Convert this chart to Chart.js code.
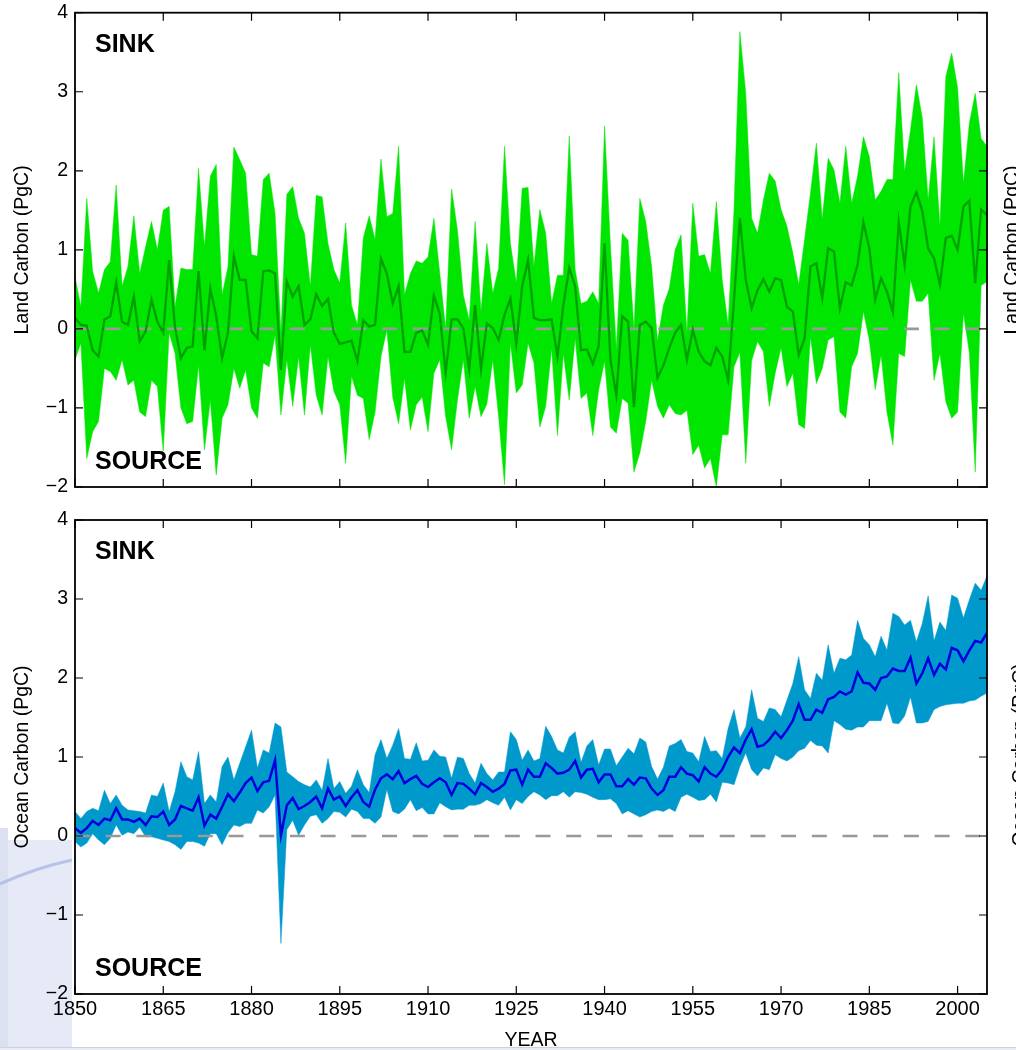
<!DOCTYPE html>
<html>
<head>
<meta charset="utf-8">
<script src="https://cdn.jsdelivr.net/npm/chart.js@4.4.1/dist/chart.umd.min.js"></script>
<style>
  body { margin: 0; background: #fff; width: 1016px; height: 1050px; overflow: hidden; position: relative; }
  canvas { position: absolute; left: 0; }
  #landChart { top: 0; }
  #oceanChart { top: 500px; }
</style>
</head>
<body>
<canvas id="landChart" width="1016" height="500"></canvas>
<canvas id="oceanChart" width="1016" height="550"></canvas>
<script>
// annual values, 1850-2005 (PgC)
const years = Array.from({ length: 156 }, (_, i) => 1850 + i);
const xTicks = [1850, 1865, 1880, 1895, 1910, 1925, 1940, 1955, 1970, 1985, 2000];
const yTicks = [-2, -1, 0, 1, 2, 3, 4];

const landUpper = [
  0.66, 0.28, 1.65, 0.73, 0.45, 0.75, 0.85, 1.82, 0.54, 0.79,
  1.43, 0.70, 1.04, 1.36, 1.00, 1.50, 1.55, 0.28, 0.77, 0.75,
  0.75, 2.03, 1.04, 1.93, 2.08, 0.43, 0.79, 2.30, 2.14, 1.97,
  0.94, 0.92, 1.89, 1.97, 1.46, -0.05, 1.70, 1.80, 1.40, 1.21,
  0.54, 1.69, 1.67, 1.08, 0.75, 0.58, 1.34, 0.30, 0.05, 1.15,
  1.43, 1.13, 2.15, 1.42, 1.46, 2.31, 0.43, 0.70, 0.86, 0.83,
  0.91, 1.40, 0.70, 0.00, 1.77, 1.25, 0.43, 0.11, 1.36, 0.22,
  1.08, 0.45, 0.77, 2.31, 1.08, 0.58, 1.78, 1.79, 0.79, 1.51,
  1.21, 0.32, 0.68, 0.68, 2.44, 0.75, 0.32, 0.35, 0.47, 0.32,
  2.57, 1.06, -0.25, 1.21, 1.12, 0.00, 1.65, 1.36, 0.79, -0.15,
  0.30, 0.51, 1.00, 1.19, -0.05, 1.59, 0.92, 0.94, 0.70, 1.61,
  0.62, 0.05, 1.50, 3.76, 2.98, 1.40, 1.21, 1.63, 1.97, 1.87,
  1.51, 1.30, 0.96, 0.56, 1.13, 1.72, 2.35, 1.38, 2.16, 2.01,
  1.59, 2.31, 1.59, 1.93, 2.43, 2.18, 1.63, 1.74, 1.89, 1.89,
  3.24, 1.99, 2.52, 3.09, 2.67, 1.63, 2.43, 1.30, 3.19, 3.49,
  3.05, 1.84, 2.60, 2.98, 2.41, 2.31
];
const landMean = [
  0.14, 0.05, 0.04, -0.27, -0.35, 0.12, 0.16, 0.59, 0.09, 0.05,
  0.41, -0.16, -0.03, 0.37, 0.09, -0.05, 0.87, 0.02, -0.37, -0.24,
  -0.22, 0.73, -0.27, 0.51, 0.16, -0.37, -0.05, 0.92, 0.62, 0.62,
  -0.03, -0.12, 0.73, 0.74, 0.70, -0.52, 0.60, 0.41, 0.54, 0.05,
  0.12, 0.44, 0.29, 0.38, -0.05, -0.19, -0.17, -0.15, -0.41, 0.11,
  0.03, 0.05, 0.89, 0.70, 0.32, 0.54, -0.29, -0.29, -0.05, -0.02,
  -0.20, 0.42, 0.19, -0.56, 0.12, 0.12, 0.01, -0.51, 0.30, -0.51,
  0.07, 0.01, -0.14, 0.18, 0.38, -0.19, 0.54, 0.87, 0.14, 0.11,
  0.11, 0.12, -0.35, 0.30, 0.77, 0.54, -0.27, -0.26, -0.44, -0.22,
  1.08, -0.39, -0.84, 0.16, 0.09, -0.99, 0.05, 0.09, 0.01, -0.62,
  -0.46, -0.24, -0.05, 0.05, -0.39, -0.01, -0.29, -0.41, -0.46, -0.24,
  -0.35, -0.65, 0.37, 1.40, 0.62, 0.26, 0.49, 0.63, 0.47, 0.64,
  0.62, 0.28, 0.22, -0.33, -0.12, 0.79, 0.83, 0.39, 1.02, 0.98,
  0.26, 0.59, 0.55, 0.81, 1.35, 1.02, 0.37, 0.64, 0.47, 0.21,
  1.35, 0.81, 1.55, 1.73, 1.49, 1.02, 0.89, 0.56, 1.15, 1.18,
  1.00, 1.55, 1.62, 0.58, 1.51, 1.44
];
const landLower = [
  -0.39, -0.18, -1.64, -1.30, -1.17, -0.50, -0.54, -0.65, -0.39, -0.71,
  -0.65, -1.05, -1.11, -0.65, -0.73, -1.55, -0.05, -0.31, -1.00, -1.20,
  -1.17, -0.46, -1.53, -0.90, -1.85, -1.13, -0.96, -0.50, -0.75, -0.52,
  -1.00, -1.13, -0.43, -0.48, -0.08, -1.09, -0.39, -0.98, -0.35, -1.09,
  -0.20, -0.84, -1.09, -0.35, -0.79, -0.96, -1.70, -0.60, -0.84, -0.88,
  -1.40, -1.05, -0.35, -0.01, -0.86, -1.20, -0.62, -1.28, -0.96, -0.86,
  -1.30, -0.56, -0.39, -1.11, -1.53, -0.90, -0.39, -1.13, -0.73, -1.11,
  -0.95, -0.39, -1.11, -1.97, -0.18, -0.81, -0.71, -0.18, -0.43, -1.24,
  -0.98, -0.25, -1.35, -0.31, -0.90, -0.12, -0.88, -0.81, -1.35, -0.77,
  -0.41, -1.24, -1.32, -0.88, -0.94, -1.81, -1.57, -1.17, -0.65, -0.98,
  -1.13, -0.96, -1.07, -1.09, -1.03, -1.59, -1.47, -1.76, -1.64, -2.00,
  -1.34, -1.34, -0.48, -0.30, -1.70, -0.40, -0.16, -0.29, -0.98, -0.56,
  -0.24, -0.73, -0.56, -1.21, -1.26, -0.10, -0.69, -0.50, -0.14, -0.10,
  -1.05, -1.13, -0.48, -0.31, 0.22, -0.14, -0.77, -0.33, -1.05, -1.47,
  -0.31, -0.35, 0.62, 0.35, 0.35, 0.45, -0.65, -0.31, -0.92, -1.13,
  -1.05, 0.20, -0.30, -1.81, 0.55, 0.60
];

const oceanUpper = [
  0.31, 0.22, 0.31, 0.35, 0.32, 0.58, 0.41, 0.52, 0.39, 0.33,
  0.32, 0.31, 0.29, 0.52, 0.50, 0.67, 0.31, 0.56, 0.94, 0.75,
  0.71, 1.07, 0.41, 0.52, 0.43, 0.88, 1.00, 0.71, 0.92, 1.13,
  1.34, 0.86, 1.09, 1.05, 1.43, 1.38, 0.81, 0.75, 0.69, 0.65,
  0.62, 0.71, 0.58, 0.98, 0.60, 0.69, 0.54, 0.63, 0.84, 0.65,
  0.55, 1.03, 1.22, 0.98, 1.15, 1.36, 0.98, 0.97, 1.18, 0.95,
  0.96, 1.09, 1.01, 1.00, 0.73, 1.00, 0.98, 0.79, 0.67, 0.92,
  0.79, 0.71, 0.81, 0.81, 1.32, 1.22, 0.96, 1.09, 0.95, 0.98,
  1.39, 1.26, 1.09, 1.05, 1.25, 1.32, 0.93, 1.14, 1.22, 0.90,
  1.10, 1.10, 0.89, 1.00, 1.11, 1.04, 1.24, 1.19, 0.88, 0.72,
  0.87, 1.14, 1.17, 1.22, 1.07, 1.05, 0.94, 1.26, 1.07, 1.08,
  0.98, 1.36, 1.60, 1.24, 1.38, 1.85, 1.49, 1.45, 1.62, 1.60,
  1.51, 1.72, 1.93, 2.27, 1.85, 1.74, 2.06, 1.97, 2.42, 2.06,
  2.25, 2.23, 2.29, 2.73, 2.50, 2.42, 2.27, 2.53, 2.35, 2.82,
  2.78, 2.67, 2.73, 2.46, 2.69, 3.04, 2.47, 2.71, 2.60, 3.05,
  3.01, 2.76, 2.99, 3.20, 3.11, 3.29
];
const oceanMean = [
  0.10, 0.04, 0.10, 0.19, 0.14, 0.22, 0.20, 0.35, 0.21, 0.21,
  0.18, 0.22, 0.14, 0.25, 0.24, 0.31, 0.14, 0.21, 0.38, 0.35,
  0.32, 0.49, 0.13, 0.27, 0.22, 0.37, 0.53, 0.44, 0.55, 0.67,
  0.74, 0.57, 0.68, 0.70, 0.96, 0.01, 0.39, 0.48, 0.34, 0.38,
  0.43, 0.50, 0.35, 0.60, 0.46, 0.50, 0.38, 0.49, 0.58, 0.43,
  0.37, 0.59, 0.73, 0.78, 0.72, 0.82, 0.67, 0.72, 0.76, 0.66,
  0.62, 0.68, 0.73, 0.68, 0.52, 0.67, 0.66, 0.60, 0.53, 0.67,
  0.62, 0.56, 0.60, 0.66, 0.83, 0.84, 0.65, 0.84, 0.75, 0.75,
  0.92, 0.86, 0.79, 0.80, 0.84, 0.95, 0.74, 0.84, 0.85, 0.68,
  0.78, 0.78, 0.63, 0.63, 0.72, 0.65, 0.74, 0.73, 0.60, 0.52,
  0.58, 0.75, 0.75, 0.87, 0.79, 0.77, 0.69, 0.87, 0.79, 0.75,
  0.84, 1.00, 1.12, 1.05, 1.22, 1.35, 1.13, 1.15, 1.22, 1.32,
  1.24, 1.34, 1.46, 1.67, 1.47, 1.47, 1.60, 1.56, 1.73, 1.76,
  1.83, 1.79, 1.83, 2.07, 1.94, 1.93, 1.85, 2.00, 2.02, 2.12,
  2.09, 2.09, 2.26, 1.93, 2.06, 2.25, 2.04, 2.18, 2.11, 2.38,
  2.35, 2.21, 2.35, 2.47, 2.45, 2.57
];
const oceanLower = [
  -0.07, -0.14, -0.09, 0.03, -0.05, -0.11, -0.03, 0.14, 0.01, 0.05,
  0.03, 0.11, -0.01, -0.01, -0.03, -0.05, -0.07, -0.11, -0.17, -0.07,
  -0.07, -0.09, -0.13, 0.03, 0.03, -0.11, 0.04, 0.14, 0.12, 0.16,
  0.16, 0.33, 0.29, 0.37, 0.52, -1.36, 0.08, 0.20, 0.01, 0.14,
  0.25, 0.27, 0.16, 0.22, 0.31, 0.30, 0.24, 0.34, 0.31, 0.22,
  0.22, 0.16, 0.24, 0.59, 0.31, 0.28, 0.34, 0.46, 0.32, 0.36,
  0.28, 0.28, 0.42, 0.37, 0.33, 0.34, 0.34, 0.39, 0.39, 0.41,
  0.46, 0.42, 0.39, 0.49, 0.33, 0.46, 0.41, 0.50, 0.56, 0.52,
  0.46, 0.51, 0.51, 0.56, 0.49, 0.56, 0.55, 0.53, 0.49, 0.46,
  0.46, 0.47, 0.41, 0.28, 0.32, 0.28, 0.24, 0.27, 0.31, 0.33,
  0.31, 0.35, 0.31, 0.49, 0.53, 0.49, 0.45, 0.46, 0.53, 0.43,
  0.68, 0.67, 0.65, 0.88, 1.05, 0.84, 0.76, 0.86, 0.84, 1.03,
  0.98, 0.95, 1.00, 1.08, 1.11, 1.21, 1.15, 1.14, 1.05, 1.46,
  1.41, 1.35, 1.34, 1.38, 1.38, 1.46, 1.46, 1.46, 1.68, 1.43,
  1.42, 1.52, 1.76, 1.43, 1.43, 1.45, 1.60, 1.64, 1.66, 1.67,
  1.68, 1.68, 1.71, 1.72, 1.77, 1.81
];

Chart.defaults.font.family = '"Liberation Sans", Arial, Helvetica, sans-serif';
Chart.defaults.color = '#000';

const toPoints = vals => vals.map((v, i) => ({ x: years[i], y: v }));
const minusSign = v => (v < 0 ? '\u2212' + (-v) : String(v));

// rotated label of the neighbouring panel, mostly cut off by the right edge
function edgeLabel(ctx, text, x, y) {
  ctx.save();
  ctx.translate(x, y);
  ctx.rotate(-Math.PI / 2);
  ctx.font = '19.5px "Liberation Sans", Arial, sans-serif';
  ctx.fillStyle = '#000';
  ctx.textAlign = 'center';
  ctx.textBaseline = 'middle';
  ctx.fillText(text, 0, 0);
  ctx.restore();
}

// box + inward ticks on all four sides, SINK / SOURCE tags
function frameAndTags(p) {
  return {
    id: 'frameAndTags',
    beforeDraw(chart) {
      if (p.backdrop) p.backdrop(chart.ctx);
    },
    afterDatasetsDraw(chart) {
      const { ctx, chartArea: a, scales: { x, y } } = chart;
      ctx.save();
      ctx.strokeStyle = '#000';
      ctx.lineWidth = 1.2;
      ctx.beginPath();
      xTicks.forEach(v => {
        const px = x.getPixelForValue(v);
        ctx.moveTo(px, a.top); ctx.lineTo(px, a.top + 8);
        ctx.moveTo(px, a.bottom); ctx.lineTo(px, a.bottom - 8);
      });
      yTicks.forEach(v => {
        const py = y.getPixelForValue(v);
        ctx.moveTo(a.left, py); ctx.lineTo(a.left + 8, py);
        ctx.moveTo(a.right, py); ctx.lineTo(a.right - 8, py);
      });
      ctx.stroke();
      ctx.lineWidth = 1.8;
      ctx.strokeRect(a.left, a.top, a.right - a.left, a.bottom - a.top);

      ctx.fillStyle = '#000';
      ctx.font = 'bold 25px "Liberation Sans", Arial, sans-serif';
      ctx.textAlign = 'left';
      ctx.textBaseline = 'alphabetic';
      ctx.fillText('SINK', a.left + 20, a.top + 39);
      ctx.fillText('SOURCE', a.left + 20, a.bottom - 18);
      ctx.restore();
    },
    afterDraw(chart) {
      if (p.overlay) p.overlay(chart.ctx);
    }
  };
}

function buildPanel(canvasId, p) {
  return new Chart(document.getElementById(canvasId), {
    type: 'line',
    data: {
      datasets: [
        { data: toPoints(p.upper), fill: '+1', backgroundColor: p.band, borderColor: p.band, borderWidth: 0.5, order: 3 },
        { data: toPoints(p.lower), fill: false, borderColor: p.band, borderWidth: 0.5, order: 4 },
        { data: [{ x: years[0], y: 0 }, { x: years[years.length - 1], y: 0 }], borderColor: '#999999', borderWidth: 2.6, borderDash: [15, 15.7], order: 1 },
        { data: toPoints(p.mean), borderColor: p.line, borderWidth: p.lineWidth, order: 0 }
      ]
    },
    options: {
      responsive: false,
      animation: false,
      devicePixelRatio: 1,
      elements: { point: { radius: 0 }, line: { tension: 0 } },
      layout: { padding: { top: p.top, right: 29, left: 0, bottom: 0 } },
      plugins: { legend: { display: false }, tooltip: { enabled: false } },
      scales: {
        x: {
          type: 'linear', min: 1850, max: 2005,
          afterBuildTicks: s => { s.ticks = xTicks.map(v => ({ value: v })); },
          afterFit: s => { s.height = p.xHeight; s.paddingLeft = 0; s.paddingRight = 0; },
          grid: { display: false, drawTicks: false },
          border: { display: false },
          ticks: { display: p.showYears, padding: 3, maxRotation: 0, autoSkip: false, font: { size: 20 }, callback: v => String(v) },
          title: { display: p.showYears, text: 'YEAR', font: { size: 19.5 }, padding: { top: 0, bottom: -2 } }
        },
        y: {
          min: -2, max: 4,
          afterBuildTicks: s => { s.ticks = yTicks.map(v => ({ value: v })); },
          afterFit: s => { s.width = 75; s.paddingTop = 0; s.paddingBottom = 0; },
          grid: { display: false, drawTicks: false },
          border: { display: false },
          ticks: { padding: 7, font: { size: 19.5 }, callback: minusSign },
          title: { display: true, text: p.title, font: { size: 19.5 }, padding: { top: 11, bottom: 0 } }
        }
      }
    },
    plugins: [frameAndTags(p)]
  });
}

buildPanel('landChart', {
  upper: landUpper, lower: landLower, mean: landMean,
  band: 'rgb(0,230,0)', line: 'rgb(0,160,0)', lineWidth: 2.3,
  title: 'Land Carbon (PgC)', top: 12.7, xHeight: 13, showYears: false,
  overlay(ctx) {
    edgeLabel(ctx, 'Land Carbon (PgC)', 1013, 250);
  }
});

buildPanel('oceanChart', {
  upper: oceanUpper, lower: oceanLower, mean: oceanMean,
  band: 'rgb(0,153,204)', line: 'rgb(0,0,220)', lineWidth: 2.5,
  title: 'Ocean Carbon (PgC)', top: 20, xHeight: 56, showYears: true,
  backdrop(ctx) {
    // pale slide background showing at the lower left
    ctx.save();
    ctx.fillStyle = '#e6e9f6';
    ctx.fillRect(0, 340, 72, 210);
    ctx.fillStyle = '#dce1f2';
    ctx.fillRect(0, 328, 8, 222);
    ctx.strokeStyle = 'rgba(150,170,220,0.6)';
    ctx.lineWidth = 3;
    ctx.beginPath();
    ctx.moveTo(0, 384);
    ctx.quadraticCurveTo(35, 368, 72, 360);
    ctx.stroke();
    ctx.restore();
  },
  overlay(ctx) {
    edgeLabel(ctx, 'Ocean Carbon (PgC)', 1021, 255);
    ctx.save();
    ctx.fillStyle = '#e8ebf3';
    ctx.fillRect(0, 547, 1016, 3);
    ctx.fillStyle = '#cdd2e2';
    ctx.fillRect(0, 547, 1016, 1);
    ctx.restore();
  }
});
</script>
</body>
</html>
